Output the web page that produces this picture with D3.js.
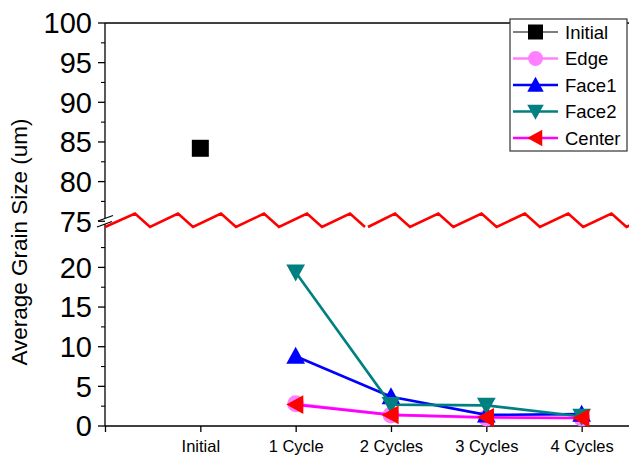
<!DOCTYPE html>
<html>
<head>
<meta charset="utf-8">
<title>Average Grain Size</title>
<style>
  body { margin: 0; background: #fff; }
  text { font-family: "Liberation Sans", Arial, sans-serif; fill: #000; }
</style>
</head>
<body>
<script src="https://cdn.jsdelivr.net/npm/d3@7"></script>
<script>
// data
var categories = ["Initial", "1 Cycle", "2 Cycles", "3 Cycles", "4 Cycles"];
var cycles = ["1 Cycle", "2 Cycles", "3 Cycles", "4 Cycles"];
var initialVals = [84.2];
var edgeVals   = [2.8, 1.4, 1.0, 1.0];
var face1Vals  = [8.8, 3.7, 1.4, 1.5];
var face2Vals  = [19.4, 2.7, 2.6, 1.2];
var centerVals = [2.7, 1.4, 1.1, 1.0];
var upperTicks = [75, 80, 85, 90, 95, 100];
var lowerTicks = [0, 5, 10, 15, 20];

var series = [
  {name: "Initial", cats: ["Initial"], vals: initialVals, line: "#000", fill: "#000", shape: "square"},
  {name: "Edge",    cats: cycles, vals: edgeVals,   line: "#ff80ff", fill: "#ff80ff", shape: "circle"},
  {name: "Face1",   cats: cycles, vals: face1Vals,  line: "#0000ff", fill: "#0000ff", shape: "up"},
  {name: "Face2",   cats: cycles, vals: face2Vals,  line: "#008080", fill: "#008080", shape: "down"},
  {name: "Center",  cats: cycles, vals: centerVals, line: "#ff00ff", fill: "#ff0000", shape: "left"}
];

var W = 629, H = 461;
var x0 = 105, xAxisY = 426, topY = 23;

var svg = d3.select("body").append("svg")
    .attr("width", W).attr("height", H);

// x: categories at 1..5, axis starts at 0
var x = d3.scaleLinear().domain([0, 6]).range([x0, x0 + 6 * 95.33]);
var xi = function(c) { return x(categories.indexOf(c) + 1); };

// broken y axis: two linear pieces
var yLow = d3.scaleLinear().domain([0, 24.5]).range([xAxisY, xAxisY - 24.5 * 7.93]);
var yUp  = d3.scaleLinear().domain([75, 100]).range([topY + 25 * 7.93, topY]);
var y = function(v) { return v >= 50 ? yUp(v) : yLow(v); };

// top frame line
svg.append("line")
    .attr("x1", x0).attr("x2", W).attr("y1", topY).attr("y2", topY)
    .attr("stroke", "#000").attr("stroke-width", 1.3);

// x axis
var gx = svg.append("g")
    .attr("transform", "translate(0," + xAxisY + ")")
    .call(d3.axisBottom(x).tickValues([0, 1, 2, 3, 4, 5])
        .tickSize(6).tickPadding(8)
        .tickFormat(function(d) { return d === 0 ? "" : categories[d - 1]; }));
gx.select(".domain").attr("stroke-width", 1.3).attr("d", "M" + x0 + ",0H" + (W + 5));
gx.selectAll("line").attr("stroke-width", 1.3);
gx.selectAll("text").attr("font-size", 16.5).attr("font-family", "Liberation Sans, Arial, sans-serif");

// y axis pieces
function yAxisPiece(scale, ticks, minors, yTop, yBot) {
  var g = svg.append("g").attr("transform", "translate(" + x0 + ",0)");
  g.append("line").attr("x1", 0).attr("x2", 0).attr("y1", yTop).attr("y2", yBot)
      .attr("stroke", "#000").attr("stroke-width", 1.3);
  g.selectAll(".mj").data(ticks).enter().append("line")
      .attr("x1", -7).attr("x2", 0)
      .attr("y1", function(d) { return scale(d); }).attr("y2", function(d) { return scale(d); })
      .attr("stroke", "#000").attr("stroke-width", 1.3);
  g.selectAll(".mn").data(minors).enter().append("line")
      .attr("x1", -4).attr("x2", 0)
      .attr("y1", function(d) { return scale(d); }).attr("y2", function(d) { return scale(d); })
      .attr("stroke", "#000").attr("stroke-width", 1.1);
  g.selectAll(".lb").data(ticks).enter().append("text")
      .attr("x", -13).attr("y", function(d) { return scale(d); })
      .attr("dy", "0.36em").attr("text-anchor", "end")
      .attr("font-size", 29).text(function(d) { return d; });
}
yAxisPiece(yUp, upperTicks, [77.5, 82.5, 87.5, 92.5, 97.5], topY, 218);
yAxisPiece(yLow, lowerTicks, [2.5, 7.5, 12.5, 17.5, 22.5], 224, xAxisY);

// slashes on the axis at the break
[[98, 221, 113, 215.5], [97, 227, 112, 221.5]].forEach(function(s) {
  svg.append("line").attr("x1", s[0]).attr("y1", s[1]).attr("x2", s[2]).attr("y2", s[3])
      .attr("stroke", "#000").attr("stroke-width", 1.3);
});

// red zigzag break line
function zig(start, firstPeak, period, end) {
  var pts = [[start, 227]];
  for (var px = firstPeak; px - 43 < end; px += period) {
    pts.push([px, 213.5]);
    pts.push([px + 15, 227]);
  }
  return pts;
}
var zline = d3.line();
svg.append("path").attr("d", zline(zig(105, 135, 43, 340)))
    .attr("fill", "none").attr("stroke", "#ff0000").attr("stroke-width", 2.6);
svg.append("path").attr("d", zline(zig(368, 395, 43.3, 650)))
    .attr("fill", "none").attr("stroke", "#ff0000").attr("stroke-width", 2.6);

// y axis title
svg.append("text")
    .attr("transform", "translate(27,242) rotate(-90)")
    .attr("text-anchor", "middle").attr("font-size", 22.5)
    .text("Average Grain Size (um)");

// markers
function marker(g, shape, cx, cy, s, fill) {
  var h = s / 2;
  if (shape === "square") {
    g.append("rect").attr("x", cx - h).attr("y", cy - h).attr("width", s).attr("height", s).attr("fill", fill);
  } else if (shape === "circle") {
    g.append("circle").attr("cx", cx).attr("cy", cy).attr("r", h).attr("fill", fill);
  } else {
    var w = s * 1.1, t = s * 1.0, p;
    if (shape === "up") p = [[cx, cy - t * 0.55], [cx + w / 2, cy + t * 0.45], [cx - w / 2, cy + t * 0.45]];
    if (shape === "down") p = [[cx, cy + t * 0.55], [cx + w / 2, cy - t * 0.45], [cx - w / 2, cy - t * 0.45]];
    if (shape === "left") p = [[cx - t * 0.55, cy], [cx + t * 0.45, cy - w / 2], [cx + t * 0.45, cy + w / 2]];
    g.append("path").attr("d", d3.line()(p) + "Z").attr("fill", fill);
  }
}

var plot = svg.append("g");
series.forEach(function(s) {
  var pts = s.vals.map(function(v, i) { return [xi(s.cats[i]), y(v)]; });
  var g = plot.append("g");
  if (pts.length > 1) {
    g.append("path").attr("d", d3.line()(pts))
        .attr("fill", "none").attr("stroke", s.line).attr("stroke-width", 2.6);
  }
  pts.forEach(function(p) { marker(g, s.shape, p[0], p[1], 17, s.fill); });
});

// legend
var lg = svg.append("g");
lg.append("rect").attr("x", 510).attr("y", 19).attr("width", 117).attr("height", 132)
    .attr("fill", "#fff").attr("stroke", "#333").attr("stroke-width", 1.2);
series.forEach(function(s, i) {
  var cy = 32 + i * 26.5;
  lg.append("line").attr("x1", 513).attr("x2", 558).attr("y1", cy).attr("y2", cy)
      .attr("stroke", s.line).attr("stroke-width", s.name === "Initial" ? 1.2 : 2.6);
  marker(lg, s.shape, 535.5, cy, 15, s.fill);
  lg.append("text").attr("x", 565).attr("y", cy).attr("dy", "0.36em")
      .attr("font-size", 18.5).text(s.name);
});
</script>
</body>
</html>
